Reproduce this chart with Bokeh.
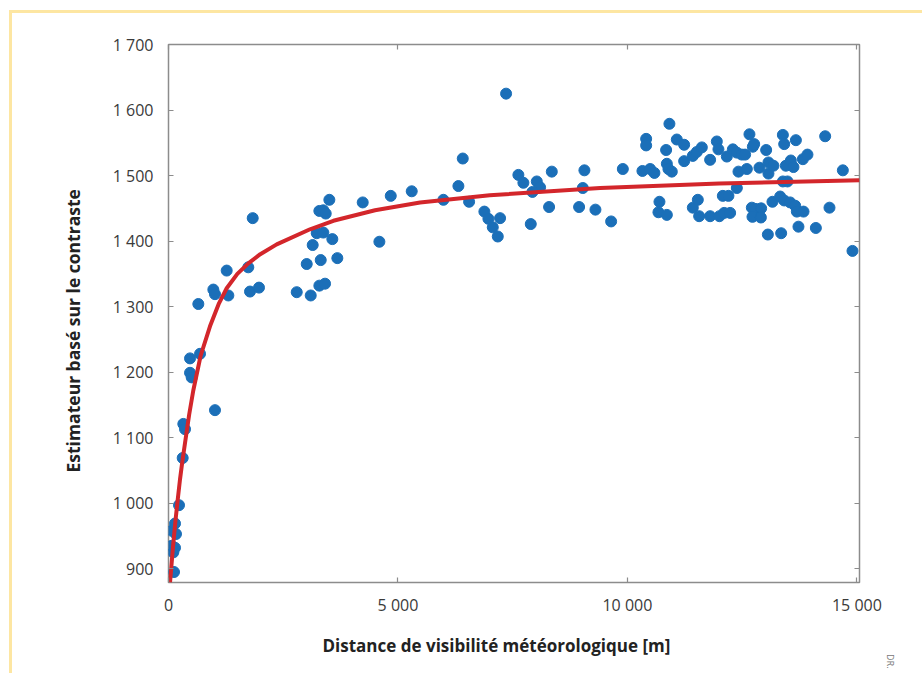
from bokeh.plotting import figure
from bokeh.models import Range1d, FixedTicker, LinearAxis, Title
from bokeh.embed import file_html
from bokeh.resources import INLINE

# Scatter measurements: meteorological visibility distance [m] vs contrast-based estimator
vis_x = [120, 105, 70, 142, 70, 163, 142, 229, 309, 323, 360, 469, 505, 469, 687, 1013, 650, 977, 1013,
         1304, 1268, 1739, 1776, 1972, 1835,
         2794, 3012, 3099, 3142, 3230, 3374, 3317, 3287, 3411, 3287, 3374, 3426, 3505, 3570, 3679,
         4232, 4595, 4843, 5300, 5990, 6317, 6412, 6550, 7356, 6883, 6971, 7066, 7175, 7225,
         7624, 7733, 8025, 8097, 7930, 7894, 8352, 8293, 9063, 9028, 8947, 9303, 9645, 9900,
         10915, 10408, 10408, 10327, 10495, 10588, 10843, 10859, 10894, 10967, 11076, 11236, 11236,
         10698, 10676, 10859, 11425, 11512, 11621, 11802, 11948, 11983, 12166, 12297, 12384, 12493,
         12565, 12659, 12733, 12762, 12420, 12602, 12877, 13023, 13073, 13073, 13182, 13387, 13416,
         13452, 13561, 13618, 13671, 13823, 13923, 14309, 14694, 14904, 14403,
         11425, 11534, 11563, 11802, 12005, 12079, 12201, 12108, 12238, 12384, 12711, 12798, 12914,
         12725, 12908, 13060, 13160, 13328, 13387, 13488, 13350, 13416, 13546, 13655, 13692, 13837,
         13727, 14106]
est_y = [895, 925, 935, 932, 958, 953, 969, 997, 1069, 1121, 1113, 1199, 1192, 1221, 1228, 1142, 1304, 1326, 1319,
         1317, 1355, 1360, 1323, 1329, 1435,
         1322, 1365, 1317, 1394, 1412, 1413, 1371, 1332, 1335, 1446, 1447, 1442, 1463, 1403, 1374,
         1459, 1399, 1469, 1476, 1463, 1484, 1526, 1460, 1625, 1445, 1434, 1421, 1407, 1435,
         1501, 1489, 1491, 1482, 1475, 1426, 1506, 1452, 1508, 1481, 1452, 1448, 1430, 1510,
         1579, 1556, 1546, 1507, 1510, 1504, 1539, 1518, 1510, 1506, 1555, 1547, 1522,
         1460, 1444, 1440, 1530, 1536, 1543, 1524, 1552, 1540, 1529, 1540, 1535, 1532,
         1532, 1563, 1544, 1548, 1506, 1510, 1512, 1539, 1520, 1503, 1515, 1562, 1548,
         1515, 1523, 1513, 1554, 1525, 1532, 1560, 1508, 1385, 1451,
         1451, 1463, 1438, 1438, 1438, 1469, 1469, 1443, 1443, 1481, 1451, 1449, 1450,
         1437, 1436, 1410, 1460, 1468, 1491, 1491, 1412, 1462, 1459, 1454, 1445, 1445,
         1422, 1420]

# Fitted curve
fit_x = [33, 100, 150, 200, 250, 300, 360, 450, 540, 700, 904, 1100, 1268, 1500, 1739, 2000, 2358,
         3084, 3592, 4500, 5482, 7000, 9405, 12000, 15057]
fit_y = [879, 935, 972, 1005, 1036, 1063, 1092, 1135, 1172, 1225, 1270, 1305, 1328, 1350, 1366, 1380, 1395,
         1418, 1431, 1447, 1459, 1470, 1481, 1488, 1493]

x_ticks = [0, 5000, 10000, 15000]
x_tick_labels = ["0", "5 000", "10 000", "15 000"]
y_ticks = [900, 1000, 1100, 1200, 1300, 1400, 1500, 1600, 1700]
y_tick_labels = ["900", "1 000", "1 100", "1 200", "1 300", "1 400", "1 500", "1 600", "1 700"]

x_title = "Distance de visibilité météorologique [m]"
y_title = "Estimateur basé sur le contraste"

FONT = "Open Sans"
FRAME = "#8c8c8c"
YEL = "#fde6a2"

p = figure(width=922, height=673, x_range=Range1d(0, 15057), y_range=Range1d(879, 1700),
           output_backend="svg", toolbar_location=None,
           min_border_left=168, min_border_right=63, min_border_top=44, min_border_bottom=91,
           background_fill_color="white", border_fill_color=None,
           styles={"background": (f"linear-gradient({YEL},{YEL}) 9px 10px / 100% 3px no-repeat, "
                                  f"linear-gradient({YEL},{YEL}) 9px 10px / 3px 100% no-repeat, #ffffff")})
p.grid.visible = False
p.outline_line_color = FRAME
p.outline_line_width = 1.5

p.xaxis.ticker = FixedTicker(ticks=x_ticks)
p.xaxis.major_label_overrides = dict(zip(x_ticks, x_tick_labels))
p.yaxis.ticker = FixedTicker(ticks=y_ticks)
p.yaxis.major_label_overrides = dict(zip(y_ticks, y_tick_labels))

for ax in (p.xaxis[0], p.yaxis[0]):
    ax.axis_line_color = None
    ax.major_tick_in = 5
    ax.major_tick_out = 0
    ax.minor_tick_line_color = None
    ax.major_tick_line_color = FRAME
    ax.major_tick_line_width = 1.2
    ax.major_label_text_font = FONT
    ax.major_label_text_font_size = "16px"
    ax.major_label_text_color = "#3a3a3a"
p.xaxis.major_label_standoff = 11
p.yaxis.major_label_standoff = 15

# mirrored inside ticks on top and right
top_ax = LinearAxis(ticker=FixedTicker(ticks=x_ticks))
right_ax = LinearAxis(ticker=FixedTicker(ticks=y_ticks))
for ax in (top_ax, right_ax):
    ax.axis_line_color = None
    ax.major_tick_in = 5
    ax.major_tick_out = 0
    ax.minor_tick_line_color = None
    ax.major_tick_line_color = FRAME
    ax.major_tick_line_width = 1.2
    ax.major_label_text_font_size = "0px"
    ax.major_label_text_alpha = 0
p.add_layout(top_ax, "above")
p.add_layout(right_ax, "right")

p.scatter(vis_x, est_y, size=11, color="#1b6fb8", line_color="#1b6fb8")
p.line(fit_x, fit_y, line_color="#d3262b", line_width=4)

# axis titles (slightly off-centre, as in the original)
p.add_layout(Title(text=x_title, align="left", offset=154, standoff=27, text_font=FONT,
                   text_font_size="17px", text_font_style="bold", text_color="#222222"), "below")
p.add_layout(Title(text=y_title, align="left", offset=110, standoff=49, text_font=FONT,
                   text_font_size="17.5px", text_font_style="bold", text_color="#222222"), "left")

# small rotated credit at the lower right edge
p.add_layout(Title(text="DR.", align="right", offset=-86, standoff=48, text_font=FONT,
                   text_font_size="9px", text_font_style="normal", text_color="#777777"), "right")

open("out.html", "w").write(file_html(p, INLINE))
